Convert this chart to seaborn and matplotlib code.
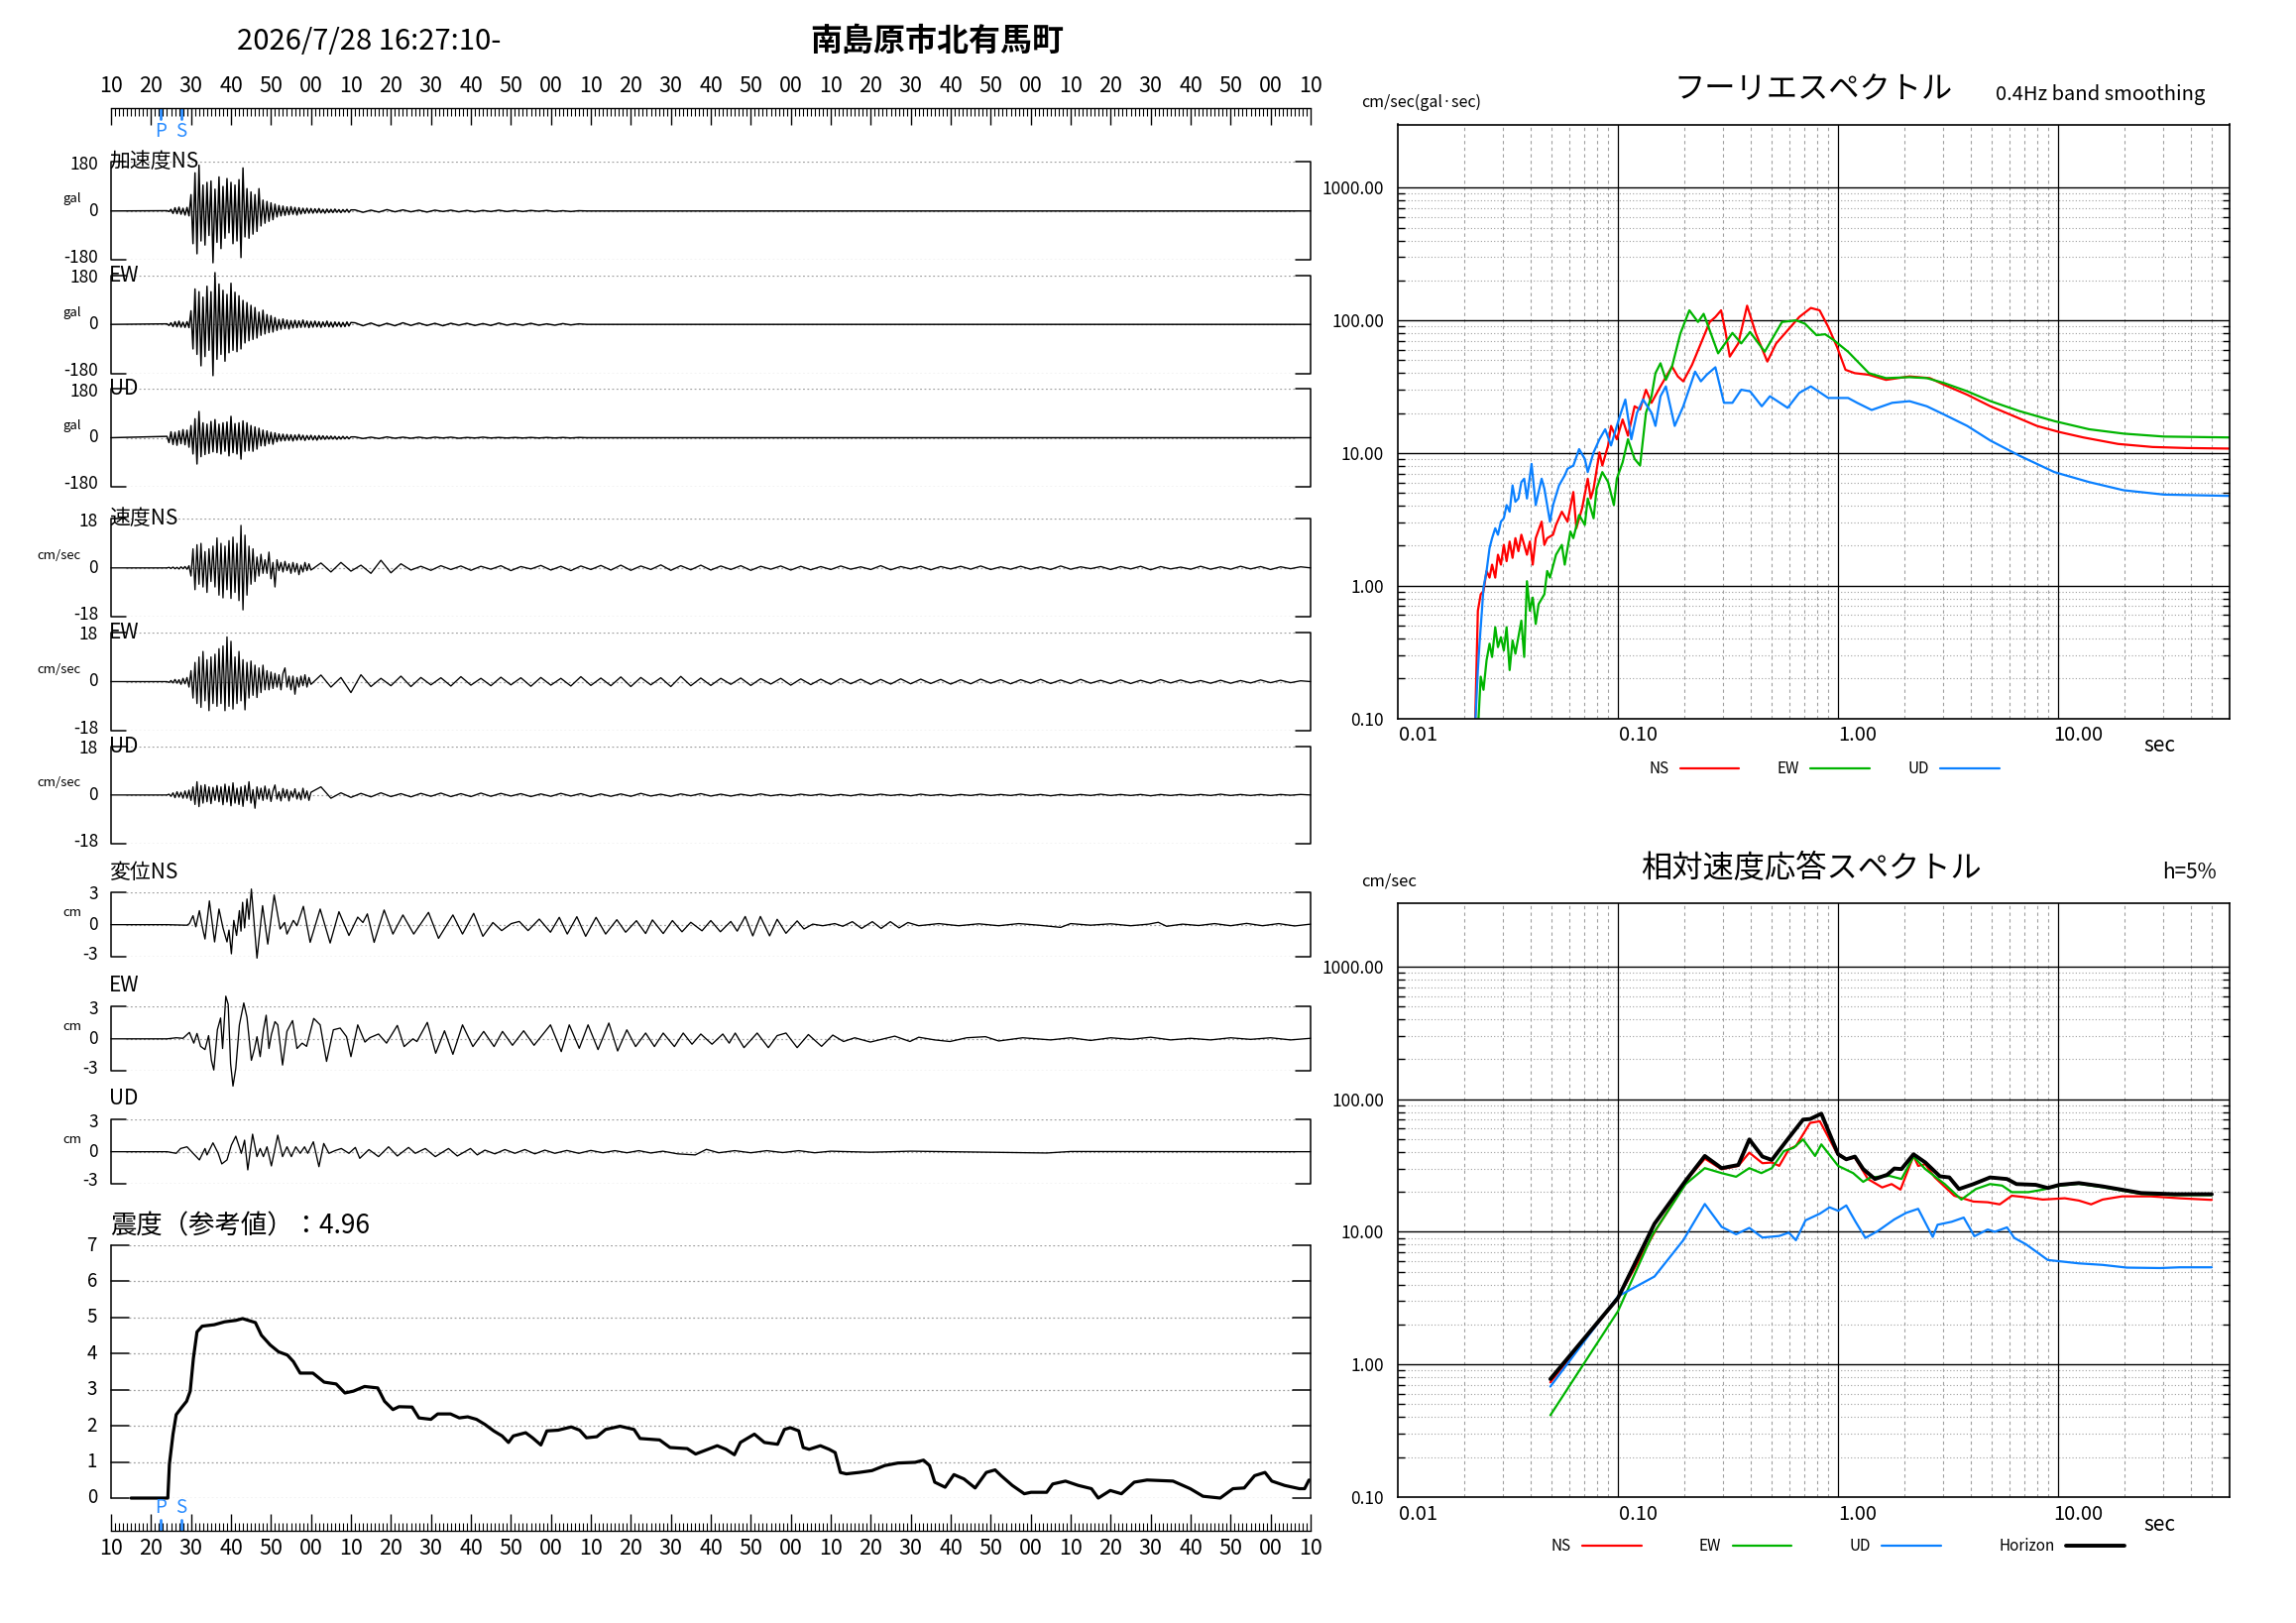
import numpy as np
import matplotlib
matplotlib.use("Agg")
import matplotlib.pyplot as plt
import seaborn as sns
from matplotlib.ticker import FixedLocator, NullFormatter, NullLocator
from matplotlib.transforms import ScaledTranslation

# ---------------- data ----------------
START_SEC = 10          # record starts 16:27:10
P_TIME, S_TIME = 12.5, 17.5
MAX_INTENSITY = 4.96

# acceleration (gal): 0.5 s peaks from 14.0 to 60.0 s, then 2 s peaks 61..119 s
acc_ns_dense = [1, -2, 6, -9, 12, -10, 14, -12, 10, -15, 13, -18,
                60, -120, 140, -157, 168, -110, 95, -125, 105, -90, 110, -190, 80, -115, 125, -138, 90, -100, 119, -80,
                105, -120, 95, -110, 115, -171, 158, -95, 82, -100, 70, -85, 60, -75, 82, -55, 40, -45, 35, -38,
                30, -32, 25, -22, 20, -18, 18, -16, 15, -14, 16, -12, 13, -15, 12, -11, 10, -9, 10, -8,
                9, -8, 8, -7, 9, -7, 6, -8, 7, -6, 6, -6, 7, -5, 5, -6, 5, -4, 6, -5, 4]
acc_ew_dense = [2, -4, 6, -8, 10, -9, 12, -10, 8, -11, 10, -12,
                50, -90, 130, -110, 120, -152, 100, -118, 140, -95, 120, -188, 190, -128, 148, -110, 125, -135, 110, -104,
                151, -95, 118, -100, 105, -90, 88, -68, 80, -60, 70, -55, 62, -50, 45, -40, 52, -35, 36, -30,
                32, -28, 25, -22, 18, -18, 20, -15, 16, -17, 14, -13, 15, -12, 13, -11, 16, -10, 12, -12,
                11, -10, 12, -9, 10, -11, 9, -8, 12, -9, 8, -10, 9, -7, 8, -9, 7, -8, 9, -6, 7]
acc_ud_dense = [5, -18, 22, -25, 20, -28, 25, -22, 30, -26, 28, -35,
                45, -60, 70, -97, 97, -70, 55, -62, 50, -58, 60, -52, 67, -55, 50, -60, 55, -50, 58, -67,
                79, -55, 52, -60, 55, -79, 62, -50, 55, -48, 45, -50, 40, -42, 35, -30, 28, -30, 25, -22,
                20, -24, 18, -15, 14, -12, 13, -11, 12, -10, 11, -12, 10, -9, 12, -8, 9, -10, 8, -7,
                9, -8, 7, -9, 8, -6, 7, -6, 6, -5, 6, -5, 5, -6, 4, -5, 5, -4, 4, -4, 3]
acc_ns_tail = [4, -5, 3, -4, 5, -3, 4, -3, 3, -4, 3, -2, 3, -3, 2, -3, 2, -2, 3, -2, 2, -2, 2, -1, 2, -2, 1, -2, 1, 0]
acc_ew_tail = [6, -5, 5, -6, 4, -5, 6, -4, 5, -4, 4, -5, 4, -3, 4, -4, 3, -4, 5, -3, 3, -3, 4, -3, 2, -3, 3, -2, 2, 0]
acc_ud_tail = [3, -3, 2, -3, 3, -2, 2, -2, 2, -2, 2, -1, 2, -2, 1, -1, 2, -1, 1, -1, 1, -1, 1, -1, 1, -1, 1, -1, 1, 0]

# velocity (cm/sec): 0.5 s peaks 14.0..50.0 s, then 2.5 s peaks 52.5..300 s
vel_ns_dense = [0, 0.2, -0.2, 0.3, -0.3, 0.2, -0.4, 0.4, -0.3, 0.5, -0.5, 0.8,
                -3, 7, -8, 8.5, -6, 9, -7, 6, -9, 7, -5, 8, -7, 11, -10, 9, -11, 8, -8, 10,
                -11.2, 11.3, -9, 9, -12, 15.6, -15.4, 12, -10, 8, -6, 7, -5, 4, -3, 5, -2, 3, -2, 5.8,
                -4, 2, -7, 3, -1, 2, -1.5, 2.4, -1, 1.5, -2, 2, -1.5, 1.6, -2.5, 1, -1.5, 2, -1, 1.5, -0.8]
vel_ew_dense = [0, -0.3, 0.4, -0.5, 0.8, -0.6, 0.7, -1, 1.2, -0.8, 1.5, -2,
                4, -6, 7, -8, 9, -9.4, 11, -7, 8, -10.6, 9, -8, 10, -9, 12, -8, 13, -10.6, 16.3, -9,
                14.7, -10, 9, -8, 11, -7, 8, -10.3, 7, -6, 7.5, -5, 6, -5.8, 5, -4, 6, -3, 4, -3,
                3.5, -2.5, 3, -2, 2.5, -3, 3, 5, -2, 2, -3, 2, -4.6, 1.5, -2, 2, -1.5, 2.5, -2, 1.5, -1]
vel_ud_dense = [0, 0.3, -0.5, 0.8, -1.0, 1.2, -0.8, 1.0, -1.2, 1.5, -1.2, 1.8,
                -2, 3, -3.5, 4.9, -4.3, 3.5, -3, 3.8, -2.5, 3, -3.2, 2.8, -2, 3.5, -2.5, 3, -3.6, 4, -2.6, 3.2,
                -4, 4.5, -3, 2.5, -3.5, 3, -4.2, 3.5, -2, 4.9, -3, 2, -4.9, 3, -1.5, 2.5, -2, 3.3, -1.5, 2.2,
                -2.4, 1.5, 3.7, -1.5, 1.2, -2.2, 2.4, -1, 2, -2.2, 1.4, -0.8, 2.3, -1.5, 1, -1.8, 2.5, -1.2, 1.5, -2, 1]
vel_ns_late = [1.8, -1.5, 2.0, -1.2, 1.0, -2.0, 2.8, -1.8, 1.5, -0.8,
               0.6, -0.9, 0.8, -0.6, 0.7, -0.9, 0.6, -0.5, 0.8, -1.0,
               0.5, -0.4, 0.9, -0.8, 0.6, -1.0, 0.7, -0.6, 0.9, -0.8,
               1.0, -0.9, 0.7, -0.6, 1.1, -0.9, 0.8, -0.7, 1.0, -0.8,
               0.7, -0.6, 0.8, -0.9, 0.6, -0.5, 0.7, -0.8, 0.6, -0.7,
               0.5, -0.6, 0.7, -0.5, 0.4, -0.6, 0.8, -0.7, 0.5, -0.4,
               0.6, -0.7, 0.5, -0.4, 0.6, -0.5, 0.7, -0.6, 0.4, -0.5,
               0.6, -0.5, 0.4, -0.6, 0.7, -0.5, 0.4, -0.3, 0.5, -0.6,
               0.5, -0.4, 0.6, -0.7, 0.5, -0.4, 0.3, -0.5, 0.6, -0.5,
               0.4, -0.5, 0.6, -0.4, 0.5, -0.6, 0.4, -0.3, 0.4, 0.0]
vel_ew_late = [2.4, -2.0, 1.5, -4.0, 2.5, -1.8, 1.2, -1.5, 2.0, -1.8,
               1.5, -1.2, 1.4, -1.6, 1.8, -1.3, 1.2, -1.5, 1.6, -1.2,
               1.4, -1.7, 1.5, -1.3, 1.2, -1.6, 1.8, -1.4, 1.3, -1.5,
               1.7, -1.8, 1.5, -1.2, 1.4, -1.8, 1.9, -1.5, 1.3, -1.4,
               1.2, -1.0, 1.3, -1.4, 1.1, -0.9, 1.2, -1.3, 1.0, -1.1,
               0.9, -1.0, 1.1, -0.8, 0.9, -1.0, 0.8, -0.9, 1.0, -0.8,
               0.9, -0.7, 0.8, -0.9, 0.7, -0.8, 0.9, -0.6, 0.7, -0.8,
               0.7, -0.6, 0.8, -0.7, 0.6, -0.7, 0.8, -0.6, 0.5, -0.7,
               0.6, -0.7, 0.5, -0.6, 0.7, -0.5, 0.6, -0.5, 0.4, -0.6,
               0.5, -0.6, 0.4, -0.5, 0.6, -0.4, 0.5, -0.4, 0.3, 0.0]
vel_ud_late = [3.0, -1.2, 0.8, -0.9, 0.6, -0.7, 0.8, -0.6, 0.5, -0.7,
               0.6, -0.5, 0.7, -0.6, 0.5, -0.6, 0.7, -0.5, 0.6, -0.4,
               0.5, -0.6, 0.4, -0.5, 0.6, -0.4, 0.5, -0.6, 0.4, -0.5,
               0.4, -0.5, 0.6, -0.4, 0.3, -0.5, 0.4, -0.3, 0.5, -0.4,
               0.3, -0.4, 0.3, -0.3, 0.4, -0.3, 0.2, -0.3, 0.3, -0.2,
               0.3, -0.3, 0.2, -0.3, 0.3, -0.2, 0.3, -0.2, 0.2, -0.3,
               0.3, -0.2, 0.2, -0.3, 0.2, -0.2, 0.3, -0.2, 0.2, -0.2,
               0.3, -0.2, 0.2, -0.3, 0.2, -0.2, 0.2, -0.2, 0.3, -0.2,
               0.2, -0.2, 0.2, -0.3, 0.2, -0.2, 0.2, -0.2, 0.2, -0.2,
               0.3, -0.2, 0.2, -0.2, 0.2, -0.2, 0.2, -0.1, 0.2, 0.0]

# displacement (cm): (time, value) turning points
disp_ns = [(0, 0), (14, 0), (19.0, -0.05), (19.6, 0.1), (20.5, 0.83), (21.2, -0.2), (22.1, 1.3), (23.0, -0.5),
           (23.5, -1.33), (24.6, 2.2), (25.9, -1.6), (27.0, 1.45), (28.0, -0.3), (29.0, -1.6), (29.5, -0.5),
           (30.1, -2.7), (30.7, 0.4), (31.4, -1.0), (32.1, 1.3), (32.5, -0.6), (32.9, 2.07), (33.4, -0.3),
           (34.0, 2.38), (34.5, 0.5), (35.1, 3.3), (36.5, -3.1), (37.9, 1.76), (39.2, -1.8), (40.8, 2.75),
           (42.3, -0.4), (43.4, 0.2), (44.0, -0.87), (45.6, 0.4), (46.5, -0.1), (48.1, 1.7), (49.8, -1.64),
           (52.3, 1.45), (54.8, -1.7), (57.0, 1.2), (59.5, -1.0), (61.7, 0.7), (63.0, 0.2), (64.1, 1.0),
           (65.8, -1.64), (68.3, 1.36), (70.5, -0.87), (73.0, 0.9), (75.7, -0.87), (79.4, 1.14), (81.9, -1.27),
           (85.5, 0.9), (87.9, -0.87), (90.7, 1.05), (93.0, -1.08), (95.5, 0.2), (97.7, -0.55), (100.1, 0.1),
           (102.1, 0.3), (104.3, -0.55), (107.1, 0.52), (109.9, -0.7), (112.1, 0.68), (114.1, -0.87),
           (116.5, 0.74), (118.7, -1.08), (121.3, 0.68), (123.7, -0.87), (126.5, 0.46), (128.7, -0.7),
           (131.4, 0.37), (133.7, -0.82), (135.4, 0.44), (138.1, -0.82), (140.4, 0.38), (142.8, -0.66),
           (145.0, 0.22), (147.8, -0.57), (150.0, 0.38), (152.4, -0.66), (155.0, 0.3), (156.6, -0.6),
           (158.6, 0.76), (160.5, -1.04), (162.4, 0.76), (164.7, -1.04), (166.6, 0.5), (168.8, -0.8),
           (171.6, 0.35), (173.3, -0.4), (175.5, 0.05), (178, -0.1), (181, 0.1), (183, -0.15), (185.4, 0.28),
           (187.7, -0.35), (190.4, 0.28), (192.6, -0.35), (194.9, 0.28), (197.1, -0.3), (199.3, 0.2),
           (202, -0.1), (207, 0.1), (212, -0.1), (217, 0.08), (222, -0.1), (227, 0.1), (232, -0.05),
           (237.5, -0.25), (240, 0.1), (245, -0.05), (250, 0.08), (255, -0.1), (259.5, 0.05), (261.9, 0.22),
           (264, -0.15), (268, 0.05), (272, -0.08), (276, 0.1), (280, -0.1), (284, 0.12), (288, -0.1),
           (292, 0.1), (296, -0.12), (300, 0.05)]
disp_ew = [(0, 0), (14, 0), (16.3, 0.1), (18, 0.05), (19.6, 0.6), (20.7, -0.4), (21.5, 0.5), (22.4, -0.7),
           (23.5, -1.0), (24.4, 0.3), (25.1, -2.0), (25.7, -2.9), (26.6, 0.85), (27.4, 1.94), (27.9, -0.9),
           (28.7, 3.97), (29.3, 3.2), (29.9, -2.3), (30.5, -4.4), (31.2, -2.75), (32.1, 1.3), (33.2, 3.34),
           (34.0, 2.0), (35.1, -2.0), (35.9, -0.9), (36.5, 0.2), (37.3, -1.66), (38.1, 0.8), (38.8, 2.2),
           (39.5, -0.9), (40.1, 0.4), (41.0, 1.6), (41.7, 1.3), (42.9, -2.44), (44.0, 0.7), (45.4, 1.7),
           (46.5, -0.9), (47.8, -0.4), (48.9, -0.7), (50.7, 1.9), (52.3, 1.3), (53.9, -2.1), (55.6, 0.84),
           (57.3, 1.0), (58.9, 0.2), (60.0, -1.66), (61.7, 1.3), (63.5, -0.3), (64.7, 0.1), (66.9, 0.45),
           (68.9, -0.4), (71.6, 1.25), (73.3, -0.72), (75.5, 0.0), (76.5, -0.25), (79.1, 1.53), (81.2, -1.34),
           (83.4, 0.75), (85.5, -1.44), (87.9, 1.3), (90.5, -0.72), (93.2, 0.69), (95.8, -0.72), (97.9, 0.69),
           (100.4, -0.6), (103.2, 0.75), (105.8, -0.6), (109.9, 1.3), (112.6, -1.19), (114.6, 1.3),
           (117.1, -0.88), (119.3, 1.3), (121.8, -1.0), (124.5, 1.47), (126.7, -1.13), (129.0, 0.84),
           (131.2, -0.72), (133.7, 0.54), (135.9, -0.72), (138.1, 0.54), (140.9, -0.72), (143.1, 0.54),
           (145.3, -0.5), (147.5, 0.45), (150.3, -0.5), (153.0, 0.45), (154.6, -0.4), (156.1, 0.54),
           (158.3, -0.82), (161.6, 0.54), (164.4, -0.82), (166.6, 0.3), (168.8, 0.54), (171.6, -0.82),
           (174.4, 0.4), (177.7, -0.7), (180.5, 0.35), (183.2, -0.25), (186, 0.1), (189.9, -0.3), (196, 0.25),
           (199.8, -0.25), (202, 0.15), (206, -0.1), (209.8, -0.25), (214, 0.1), (218.7, 0.2), (222, -0.2),
           (228, 0.1), (235, -0.1), (240, 0.1), (245, -0.15), (250, 0.1), (255, -0.05), (260, 0.15),
           (265, -0.1), (270, 0.05), (275, -0.1), (280, 0.1), (285, -0.05), (290, 0.1), (295, -0.1), (300, 0.05)]
disp_ud = [(0, 0), (14, 0), (16.3, -0.15), (17.4, 0.3), (19.0, 0.46), (20.4, -0.1), (22.1, -0.77), (23.5, 0.3),
           (24.0, -0.3), (25.5, 0.83), (26.8, -0.15), (27.7, -1.14), (29.0, -0.77), (30.1, 0.62), (31.2, 1.45),
           (32.6, -0.15), (33.4, 1.08), (34.2, -1.7), (35.4, 1.64), (36.5, -0.46), (37.3, 0.3), (38.1, -0.46),
           (39.0, 0.46), (40.1, -1.33), (41.7, 1.55), (42.9, -0.46), (44.0, 0.46), (45.1, -0.46), (46.2, 0.46),
           (47.3, -0.15), (48.4, 0.46), (49.2, -0.15), (50.6, 0.93), (52.0, -1.4), (53.2, 0.77), (54.5, -0.15),
           (56.0, 0.1), (57.6, 0.3), (59.5, -0.15), (61.1, 0.4), (62.2, -0.62), (64.5, 0.2), (66.9, -0.46),
           (69.4, 0.46), (71.6, -0.4), (74.4, 0.4), (76.1, -0.15), (78.6, 0.3), (81.1, -0.46), (84.4, 0.3),
           (86.6, -0.4), (89.9, 0.3), (91.6, -0.3), (93.5, 0.15), (96, -0.2), (98.5, 0.2), (101, -0.15),
           (103.5, 0.2), (106, -0.2), (108.5, 0.15), (111, -0.15), (114, 0.12), (117, -0.15), (120, 0.12),
           (123, -0.1), (126, 0.1), (129, -0.1), (132, 0.1), (135, -0.12), (138, 0.05), (141.7, -0.2),
           (146.1, -0.3), (148.9, 0.22), (152, -0.1), (156, 0.1), (160, -0.1), (164, 0.1), (168, -0.08),
           (172, 0.1), (176, -0.1), (180, 0.05), (190, -0.05), (200, 0.05), (234, -0.12), (240, 0.02), (300, 0.0)]

# seismic intensity (time, value)
intensity = [(5.0, 0), (14.2, 0), (14.6, 0.94), (15.5, 1.77), (16.3, 2.31), (17.6, 2.50), (18.9, 2.68), (19.8, 2.96),
             (20.6, 3.87), (21.5, 4.60), (22.8, 4.76), (25.8, 4.80), (28.4, 4.88), (31.2, 4.92), (32.9, 4.97),
             (36.1, 4.86), (37.6, 4.51), (39.8, 4.24), (41.9, 4.05), (44.1, 3.96), (45.6, 3.78), (47.3, 3.46),
             (50.5, 3.46), (53.3, 3.21), (56.3, 3.16), (58.5, 2.91), (60.6, 2.96), (63.4, 3.09), (66.7, 3.05),
             (68.4, 2.68), (70.5, 2.45), (72.0, 2.53), (75.3, 2.52), (77.0, 2.22), (80.0, 2.18), (81.7, 2.33),
             (84.9, 2.33), (87.1, 2.22), (89.2, 2.25), (91.4, 2.18), (93.5, 2.04), (95.7, 1.86), (97.8, 1.72),
             (99.4, 1.54), (100.6, 1.72), (103.7, 1.81), (105.4, 1.67), (107.5, 1.47), (109.0, 1.86),
             (111.8, 1.88), (115.1, 1.97), (117.2, 1.88), (118.9, 1.67), (121.5, 1.70), (123.7, 1.90),
             (127.3, 1.99), (130.8, 1.90), (132.3, 1.65), (137.2, 1.61), (139.8, 1.40), (144.1, 1.37),
             (146.2, 1.22), (148.8, 1.33), (151.6, 1.45), (153.8, 1.35), (155.9, 1.20), (157.4, 1.54),
             (160.9, 1.77), (163.4, 1.54), (166.7, 1.49), (168.4, 1.90), (169.9, 1.95), (172.0, 1.86),
             (173.1, 1.40), (174.6, 1.35), (177.4, 1.45), (179.6, 1.35), (181.1, 1.26), (182.4, 0.71),
             (183.9, 0.67), (187.1, 0.71), (190.3, 0.76), (193.5, 0.90), (196.8, 0.97), (201.1, 0.99),
             (203.2, 1.05), (204.7, 0.90), (206.0, 0.44), (208.6, 0.30), (210.8, 0.65), (213.3, 0.53),
             (216.1, 0.28), (218.9, 0.71), (221.1, 0.78), (222.6, 0.62), (225.4, 0.35), (228.4, 0.12),
             (230.1, 0.16), (234.0, 0.16), (235.5, 0.39), (238.7, 0.47), (241.9, 0.35), (245.2, 0.26),
             (246.9, 0.0), (249.9, 0.21), (252.7, 0.12), (255.9, 0.44), (259.1, 0.50), (265.6, 0.47),
             (269.9, 0.26), (273.1, 0.05), (277.4, 0.0), (280.6, 0.26), (283.4, 0.28), (286.0, 0.62),
             (288.6, 0.71), (290.3, 0.47), (293.5, 0.35), (297.2, 0.26), (298.5, 0.26), (299.6, 0.50)]

# Fourier spectra (period sec, amplitude)
fourier_ns = [(0.0224, 0.08), (0.0231, 0.647), (0.0238, 0.861), (0.0245, 0.912), (0.0253, 1.29), (0.0261, 1.15),
              (0.0268, 1.44), (0.0277, 1.15), (0.0285, 1.71), (0.0294, 1.44), (0.0303, 2.03), (0.0312, 1.53),
              (0.0322, 2.15), (0.0332, 1.62), (0.0342, 2.28), (0.0353, 1.82), (0.0364, 2.42), (0.0386, 1.71),
              (0.0398, 2.15), (0.0410, 1.44), (0.0423, 2.28), (0.0450, 3.04), (0.0463, 2.03), (0.0477, 2.28),
              (0.0507, 2.42), (0.0523, 2.87), (0.0556, 3.61), (0.0590, 3.04), (0.0627, 5.08), (0.0647, 2.71),
              (0.0687, 3.82), (0.0729, 6.40), (0.0752, 4.54), (0.0775, 5.39), (0.0824, 10.1), (0.0849, 8.04),
              (0.0902, 11.4), (0.0930, 16.0), (0.0988, 12.7), (0.105, 17.9), (0.111, 13.5), (0.119, 22.5),
              (0.126, 21.3), (0.134, 30.0), (0.142, 23.9), (0.156, 31.8), (0.176, 44.9), (0.187, 37.8),
              (0.198, 34.7), (0.217, 46.2), (0.238, 67.0), (0.261, 97.2), (0.277, 106), (0.294, 119),
              (0.307, 84.2), (0.322, 53.3), (0.352, 67.0), (0.386, 129), (0.423, 79.5), (0.477, 48.9),
              (0.523, 67.0), (0.590, 84.2), (0.666, 106), (0.752, 124), (0.824, 119), (0.902, 89.2),
              (0.988, 63.2), (1.08, 42.4), (1.19, 40.0), (1.38, 38.9), (1.65, 35.6), (2.11, 37.8), (2.61, 36.7),
              (3.03, 32.7), (3.86, 27.5), (4.92, 22.5), (6.27, 19.0), (8.00, 16.0), (10.1, 14.4), (13.0, 13.1),
              (18.7, 11.7), (26.8, 11.1), (38.6, 10.9), (60.0, 10.8)]
fourier_ew = [(0.0231, 0.08), (0.0238, 0.206), (0.0245, 0.164), (0.0253, 0.274), (0.0261, 0.365), (0.0268, 0.290),
              (0.0277, 0.486), (0.0285, 0.344), (0.0294, 0.409), (0.0303, 0.325), (0.0312, 0.486), (0.0322, 0.231),
              (0.0332, 0.386), (0.0342, 0.307), (0.0364, 0.545), (0.0375, 0.290), (0.0386, 1.08), (0.0398, 0.647),
              (0.0410, 0.813), (0.0423, 0.514), (0.0436, 0.726), (0.0463, 0.861), (0.0477, 1.29), (0.0491, 1.15),
              (0.0523, 1.71), (0.0556, 2.03), (0.0573, 1.44), (0.0608, 2.56), (0.0627, 2.28), (0.0666, 3.41),
              (0.0707, 2.87), (0.0729, 4.54), (0.0775, 3.22), (0.0800, 5.39), (0.0849, 7.18), (0.0902, 6.04),
              (0.0958, 4.05), (0.0988, 6.40), (0.105, 8.51), (0.111, 12.7), (0.119, 9.02), (0.126, 8.04),
              (0.134, 20.1), (0.142, 26.8), (0.148, 40.0), (0.156, 47.5), (0.165, 35.6), (0.176, 44.9),
              (0.192, 79.5), (0.211, 119), (0.231, 97.2), (0.245, 112), (0.261, 84.2), (0.285, 56.4),
              (0.331, 80.4), (0.363, 67.0), (0.398, 81.8), (0.464, 58.0), (0.556, 97.2), (0.645, 100),
              (0.707, 94.4), (0.798, 77.3), (0.873, 78.6), (0.956, 70.9), (1.11, 58.0), (1.38, 40.0),
              (1.65, 36.7), (2.11, 37.3), (2.53, 36.7), (3.03, 33.7), (3.86, 29.2), (4.92, 24.6), (6.66, 20.7),
              (9.60, 17.4), (13.8, 15.1), (19.8, 14.0), (30.2, 13.3), (60.0, 13.1)]
fourier_ud = [(0.0224, 0.08), (0.0231, 0.231), (0.0235, 0.365), (0.0241, 0.647), (0.0245, 0.966), (0.0253, 1.29),
              (0.0261, 1.92), (0.0268, 2.28), (0.0277, 2.71), (0.0285, 2.42), (0.0294, 3.04), (0.0303, 3.22),
              (0.0312, 4.05), (0.0322, 3.61), (0.0332, 5.70), (0.0342, 4.29), (0.0353, 4.54), (0.0364, 6.04),
              (0.0375, 6.40), (0.0386, 4.54), (0.0405, 8.28), (0.0423, 4.05), (0.0436, 5.08), (0.0450, 6.40),
              (0.0463, 5.39), (0.0491, 3.04), (0.0507, 4.05), (0.0540, 5.70), (0.0573, 6.78), (0.0590, 7.60),
              (0.0627, 8.04), (0.0666, 10.7), (0.0707, 9.02), (0.0729, 7.18), (0.0775, 10.1), (0.0824, 12.7),
              (0.0875, 15.1), (0.0930, 11.4), (0.0988, 16.0), (0.102, 19.0), (0.108, 25.3), (0.115, 12.7),
              (0.122, 20.1), (0.130, 25.3), (0.142, 20.1), (0.148, 16.0), (0.156, 26.8), (0.165, 31.8),
              (0.181, 16.0), (0.198, 22.5), (0.224, 41.1), (0.238, 34.7), (0.253, 38.9), (0.277, 44.3),
              (0.303, 23.9), (0.331, 23.9), (0.363, 30.0), (0.398, 29.2), (0.450, 22.5), (0.490, 26.8),
              (0.590, 21.9), (0.666, 28.4), (0.752, 31.8), (0.902, 26.0), (1.11, 26.0), (1.22, 23.9),
              (1.42, 21.1), (1.76, 23.9), (2.11, 24.6), (2.53, 22.5), (3.03, 19.5), (3.86, 16.0), (4.92, 12.4),
              (6.66, 9.55), (9.60, 7.18), (13.8, 6.04), (19.8, 5.24), (30.2, 4.86), (60.0, 4.75)]

# relative velocity response spectra h=5% (period sec, cm/sec)
resp_ns = [(0.0493, 0.733), (0.1, 3.17), (0.150, 10.6), (0.213, 26.4), (0.248, 35.6), (0.2956, 29.6), (0.352, 31.4),
           (0.395, 39.5), (0.453, 32.9), (0.500, 33.3), (0.540, 31.4), (0.597, 41.8), (0.643, 44.3), (0.746, 66.2),
           (0.826, 68.1), (0.985, 39.5), (1.089, 35.2), (1.192, 36.2), (1.365, 25.0), (1.586, 21.6), (1.75, 22.9),
           (1.92, 20.8), (2.20, 37.3), (2.31, 31.4), (2.49, 32.3), (2.75, 25.7), (3.37, 18.7), (4.12, 16.9),
           (4.78, 16.7), (5.42, 16.1), (6.15, 18.7), (7.15, 18.2), (8.51, 17.5), (10.7, 17.9), (12.4, 17.2),
           (14.1, 16.1), (15.9, 17.5), (19.5, 18.5), (26.3, 18.5), (35.6, 17.9), (49.8, 17.4)]
resp_ew = [(0.0493, 0.414), (0.1, 2.52), (0.143, 9.42), (0.203, 22.9), (0.248, 30.2), (0.2956, 27.7), (0.344, 26.0),
           (0.395, 30.2), (0.448, 27.7), (0.500, 30.2), (0.567, 40.6), (0.628, 43.0), (0.693, 49.7), (0.786, 37.3),
           (0.839, 45.6), (1.0, 31.4), (1.17, 27.7), (1.30, 23.8), (1.40, 25.7), (1.71, 26.4), (1.94, 25.0),
           (2.20, 36.9), (2.49, 29.7), (3.05, 22.9), (3.63, 17.5), (4.22, 21.0), (4.90, 22.9), (5.56, 22.3),
           (6.15, 19.9), (7.33, 19.9), (8.51, 20.8), (10.15, 22.3), (12.4, 23.0), (15.9, 21.7), (23.8, 19.3),
           (33.8, 18.9), (49.8, 18.9)]
resp_ud = [(0.0493, 0.681), (0.1, 3.26), (0.1465, 4.60), (0.198, 8.64), (0.248, 16.2), (0.2956, 10.9), (0.344, 9.58),
           (0.395, 10.7), (0.453, 9.05), (0.540, 9.3), (0.597, 9.86), (0.643, 8.64), (0.711, 12.2), (0.826, 13.7),
           (0.915, 15.3), (1.0, 14.4), (1.089, 15.8), (1.20, 11.9), (1.33, 9.0), (1.51, 10.1), (1.80, 12.4),
           (2.04, 13.9), (2.31, 14.9), (2.69, 9.15), (2.83, 11.3), (3.28, 11.9), (3.72, 12.8), (4.16, 9.26),
           (4.78, 10.4), (5.15, 10.0), (5.85, 10.8), (6.31, 9.0), (7.15, 8.03), (8.96, 6.13), (12.4, 5.78),
           (15.9, 5.63), (20.5, 5.37), (29.1, 5.33), (35.6, 5.4), (49.8, 5.4)]
resp_hz = [(0.0493, 0.776), (0.1, 3.17), (0.1465, 11.5), (0.203, 24.3), (0.248, 37.3), (0.2956, 30.2), (0.352, 31.9),
           (0.395, 49.7), (0.453, 36.9), (0.500, 34.8), (0.597, 51.1), (0.693, 70.1), (0.746, 70.8), (0.839, 77.7),
           (1.0, 38.4), (1.089, 35.2), (1.192, 36.9), (1.30, 29.7), (1.47, 25.0), (1.67, 26.9), (1.80, 30.0),
           (1.94, 29.7), (2.20, 38.4), (2.49, 33.3), (2.90, 26.2), (3.20, 25.7), (3.54, 21.0), (4.12, 22.9),
           (4.90, 25.7), (5.85, 25.0), (6.46, 22.9), (7.90, 22.6), (8.96, 21.4), (10.15, 22.6), (12.4, 23.3),
           (15.9, 22.0), (23.8, 19.6), (33.8, 19.2), (49.8, 19.2)]

# ---------------- style ----------------
sns.set_theme(style="white", rc={"text.color": "black", "axes.edgecolor": "black",
                                 "xtick.color": "black", "ytick.color": "black"})
plt.rcParams['font.family'] = ['Noto Sans CJK JP', 'DejaVu Sans']
plt.rcParams['axes.unicode_minus'] = False

RED, GREEN, BLUE, PSBLUE = '#ff0000', '#00b400', '#0a80ff', '#2a8cff'
GRID = '#a0a0a0'
W, H = 2316, 1637
fig = plt.figure(figsize=(W / 100, H / 100), dpi=100)
fig.patch.set_facecolor('white')


def px_axes(x0, y0, x1, y1):
    return fig.add_axes([x0 / W, 1 - y1 / H, (x1 - x0) / W, (y1 - y0) / H])


def ptext(x, y, s, size, ha='left', va='center', **kw):
    fig.text(x / W, 1 - y / H, s, fontsize=size, ha=ha, va=va, **kw)


def pairs(seq):
    a, b = zip(*seq)
    return np.array(a, float), np.array(b, float)


LX0, LX1 = 112, 1322
STUB = 3.8

# ---------------- waveform panels ----------------
acc_t = np.concatenate([[0.0], np.arange(14.0, 60.25, 0.5), np.arange(61.0, 120.0, 2.0), [121.0, 300.0]])
vel_t = np.concatenate([[0.0], np.arange(14.0, 50.25, 0.5), np.arange(52.5, 300.01, 2.5)])

def acc_series(dense, tail):
    return np.concatenate([[0.0], dense, tail, [0.0, 0.0]])

def vel_series(dense, late):
    return np.concatenate([[0.0], dense, late])

panels = [
    ('加速度NS', 163.3, 262.3, 180, 'gal', acc_t, acc_series(acc_ns_dense, acc_ns_tail), 0, 1.05),
    ('EW', 277.7, 376.7, 180, 'gal', acc_t, acc_series(acc_ew_dense, acc_ew_tail), 0, 1.05),
    ('UD', 392.3, 490.7, 180, 'gal', acc_t, acc_series(acc_ud_dense, acc_ud_tail), 0, 1.05),
    ('速度NS', 523.3, 622.3, 18, 'cm/sec', vel_t, vel_series(vel_ns_dense, vel_ns_late), 0, 0.95),
    ('EW', 637.7, 737.3, 18, 'cm/sec', vel_t, vel_series(vel_ew_dense, vel_ew_late), 0, 0.95),
    ('UD', 752.7, 851.0, 18, 'cm/sec', vel_t, vel_series(vel_ud_dense, vel_ud_late), 0, 0.95),
    ('変位NS', 900.0, 965.3, 3, 'cm', *pairs(disp_ns), 20, 0.95),
    ('EW', 1015.3, 1080.3, 3, 'cm', *pairs(disp_ew), 21, 0.95),
    ('UD', 1129.3, 1194.0, 3, 'cm', *pairs(disp_ud), 21, 0.95),
]

for name, top, bot, lim, unit, t, v, lab_up, lw in panels:
    ax = px_axes(LX0, top, LX1, bot)
    ax.set_xlim(0, 300)
    ax.set_ylim(-lim, lim)
    ax.axis('off')
    for yy in (-lim, 0, lim):
        ax.plot([STUB, 300 - STUB], [yy, yy], ls=(0, (1.5, 2.0)), color=GRID, lw=0.9)
    ax.plot([STUB, 0, 0, STUB], [lim, lim, -lim, -lim], color='black', lw=1.1, clip_on=False)
    ax.plot([300 - STUB, 300, 300, 300 - STUB], [lim, lim, -lim, -lim], color='black', lw=1.1, clip_on=False)
    sns.lineplot(x=t, y=v, ax=ax, color='black', lw=lw, estimator=None, sort=False, clip_on=False)
    mid = (top + bot) / 2
    ptext(99, top + 2.5, f'{lim}', 12.5, ha='right')
    ptext(99, mid, '0', 12.5, ha='right')
    ptext(99, bot - 2.5, f'-{lim}', 12.5, ha='right')
    ptext(82, mid - 12, unit, 9.5, ha='right')
    ptext(110, top - lab_up, name, 15)

# ---------------- intensity panel ----------------
IT, IB = 1256, 1511
ax_i = px_axes(LX0, IT, LX1, IB)
ax_i.set_xlim(0, 300)
ax_i.set_ylim(0, 7)
ax_i.axis('off')
for lev in range(8):
    ax_i.plot([4.5, 295.5], [lev, lev], ls=(0, (1.5, 2.0)), color=GRID, lw=0.9)
    ax_i.plot([0, 4.5], [lev, lev], color='black', lw=1.1, clip_on=False)
    ax_i.plot([295.5, 300], [lev, lev], color='black', lw=1.1, clip_on=False)
    ptext(98, IB - lev * (IB - IT) / 7, str(lev), 13.5, ha='right')
ax_i.plot([0, 0], [0, 7], color='black', lw=1.1, clip_on=False)
ax_i.plot([300, 300], [0, 7], color='black', lw=1.1, clip_on=False)
it, iv = pairs(intensity)
sns.lineplot(x=it, y=iv, ax=ax_i, color='black', lw=2.3, estimator=None, sort=False, clip_on=False)
ptext(111, 1237, f'震度（参考値）：{MAX_INTENSITY:.2f}', 19)

# ---------------- time axes ----------------
tick_pos = np.arange(0, 301, 10)
tick_lab = [f'{(START_SEC + s) % 60:02d}' for s in tick_pos]

def time_axis(y0, y1, top_side):
    ax = px_axes(LX0, y0, LX1, y1)
    ax.set_xlim(0, 300)
    ax.set_ylim(0, 1)
    ax.patch.set_alpha(0)
    for s in ax.spines:
        ax.spines[s].set_visible(False)
    side = 'top' if top_side else 'bottom'
    ax.spines[side].set_visible(True)
    ax.spines[side].set_linewidth(1.0)
    ax.set_yticks([])
    ax.set_xticks(tick_pos)
    ax.set_xticklabels(tick_lab)
    ax.set_xticks(np.arange(0, 301, 1), minor=True)
    kw = dict(top=top_side, bottom=not top_side, labeltop=top_side, labelbottom=not top_side)
    ax.tick_params(axis='x', which='major', direction='in', length=12, width=1.0, labelsize=15.5,
                   pad=8 if top_side else 5, **kw)
    ax.tick_params(axis='x', which='minor', direction='in', length=5.5, width=0.8, **kw)
    return ax

ax_top = time_axis(109, 136, True)
for tt, lab in ((P_TIME, 'P'), (S_TIME, 'S')):
    ax_top.plot([tt, tt], [1.0, 0.6], color=PSBLUE, lw=2)
    ax_top.text(tt, 0.14, lab, color=PSBLUE, ha='center', va='center', fontsize=13.5)

ax_bot = time_axis(1512, 1544, False)
for tt, lab in ((P_TIME, 'P'), (S_TIME, 'S')):
    ax_bot.plot([tt, tt], [0.0, 0.33], color=PSBLUE, lw=2)
    ax_bot.text(tt, 0.75, lab, color=PSBLUE, ha='center', va='center', fontsize=13.5)

# ---------------- titles ----------------
ptext(372, 42, '2026/7/28 16:27:10-', 21, ha='center')
ptext(945, 42, '南島原市北有馬町', 23, ha='center', fontweight='bold')

# ---------------- spectra ----------------
minor_x = [m * 10.0 ** k for k in (-2, -1, 0, 1) for m in range(2, 10) if m * 10.0 ** k < 60]
minor_y = [m * 10.0 ** k for k in (-1, 0, 1, 2) for m in range(2, 10)]

def spectrum_axes(top, bot):
    ax = px_axes(1410, top, 2249, bot)
    ax.set_xscale('log')
    ax.set_yscale('log')
    ax.set_xlim(0.01, 60)
    ax.set_ylim(0.1, 3000)
    for x in minor_x:
        ax.axvline(x, color=GRID, lw=0.8, ls=(0, (3, 3)), zorder=0.5)
    for y in minor_y:
        ax.axhline(y, color=GRID, lw=0.8, ls=(0, (1, 2)), zorder=0.5)
    for x in (0.1, 1, 10):
        ax.axvline(x, color='black', lw=0.9, zorder=0.6)
    for y in (1, 10, 100, 1000):
        ax.axhline(y, color='black', lw=1.0, zorder=0.6)
    ax.set_xticks([0.01, 0.1, 1, 10])
    ax.set_xticklabels(['0.01', '0.10', '1.00', '10.00'])
    ax.xaxis.set_minor_locator(NullLocator())
    ax.set_yticks([0.1, 1, 10, 100, 1000])
    ax.set_yticklabels(['0.10', '1.00', '10.00', '100.00', '1000.00'])
    ax.yaxis.set_minor_locator(FixedLocator(minor_y))
    ax.yaxis.set_minor_formatter(NullFormatter())
    ax.tick_params(axis='x', which='major', length=0, pad=5, labelsize=14.5)
    ax.tick_params(axis='y', which='major', length=0, pad=10, labelsize=12.5)
    ax.tick_params(axis='y', which='minor', direction='in', length=5, width=1.0,
                   left=True, right=True, color='black')
    shift = ScaledTranslation(20 / 100, 0, fig.dpi_scale_trans)
    for lab in ax.get_xticklabels():
        lab.set_ha('center')
        lab.set_transform(lab.get_transform() + shift)
    for s in ax.spines.values():
        s.set_color('black')
        s.set_linewidth(1.2)
    return ax

# Fourier spectrum
FT, FB = 125.5, 724.5
ax_f = spectrum_axes(FT, FB)
for data, col, lab in ((fourier_ns, RED, 'NS'), (fourier_ew, GREEN, 'EW'), (fourier_ud, BLUE, 'UD')):
    x, y = pairs(data)
    sns.lineplot(x=x, y=y, ax=ax_f, color=col, lw=1.6, estimator=None, sort=False, label=lab)
ax_f.legend(ncol=3, markerfirst=False, frameon=False, loc='center',
            bbox_to_anchor=(1840 / W, 1 - 776 / H), bbox_transform=fig.transFigure,
            fontsize=11, handlelength=3.9, handletextpad=0.75, columnspacing=2.5)
ptext(1829, 90, 'フーリエスペクトル', 22.5, ha='center')
ptext(2013, 95, '0.4Hz band smoothing', 14.5)
ptext(1373, 103, 'cm/sec(gal·sec)', 11.5)
ptext(2178, 752, 'sec', 15, ha='center')

# Velocity response spectrum
RT, RB = 911, 1510
ax_r = spectrum_axes(RT, RB)
for data, col, lab, lw in ((resp_ns, RED, 'NS', 1.6), (resp_ew, GREEN, 'EW', 1.6),
                           (resp_ud, BLUE, 'UD', 1.6), (resp_hz, 'black', 'Horizon', 2.8)):
    x, y = pairs(data)
    sns.lineplot(x=x, y=y, ax=ax_r, color=col, lw=lw, estimator=None, sort=False, label=lab)
ax_r.legend(ncol=4, markerfirst=False, frameon=False, loc='center',
            bbox_to_anchor=(1854 / W, 1 - 1560 / H), bbox_transform=fig.transFigure,
            fontsize=11, handlelength=3.9, handletextpad=0.75, columnspacing=3.8)
ptext(1827, 876, '相対速度応答スペクトル', 22.5, ha='center')
ptext(2181, 880, 'h=5%', 15)
ptext(1373, 889, 'cm/sec', 12)
ptext(2178, 1538, 'sec', 15, ha='center')

fig.savefig('out.png', dpi=100, facecolor='white')
